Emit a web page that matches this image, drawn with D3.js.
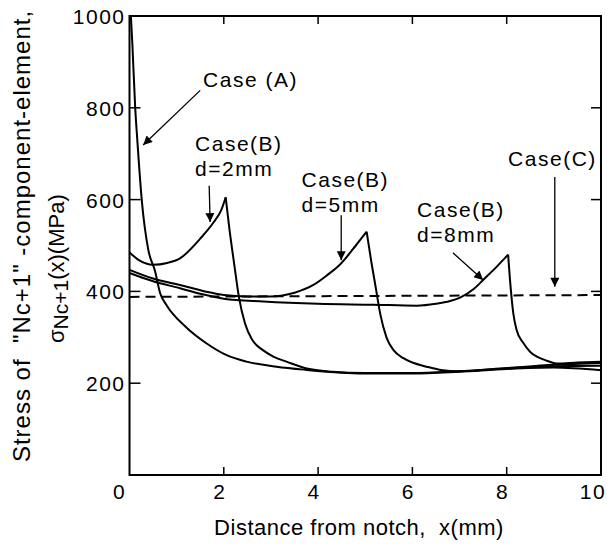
<!DOCTYPE html>
<html>
<head>
<meta charset="utf-8">
<script src="https://cdn.jsdelivr.net/npm/d3@7"></script>
<style>
  body { margin: 0; background: #fff; }
  svg text { font-family: "Liberation Sans", Arial, sans-serif; fill: #000; white-space: pre; }
</style>
</head>
<body>
<svg width="611" height="547"></svg>
<script>
// values: x = distance (mm), y = stress (MPa)
let caseAX = [0.03, 0.06, 0.12, 0.17, 0.26, 0.40, 0.54, 0.65, 0.78, 1.19, 1.63, 2.06, 2.48, 3.12, 3.76, 4.5, 5.2, 6.0, 7.0, 8.0, 9.0, 10.0];
let caseAY = [998, 940, 802, 723, 599, 490, 445, 396, 371, 323, 287, 261, 247, 236, 229, 223, 221, 221, 225, 231, 234, 228];

let d2RiseX = [0, 0.2, 0.5, 0.8, 1.07, 1.5, 1.78, 1.95, 2.04];
let d2RiseY = [485, 468, 458, 462, 472, 515, 550, 578, 605];
let d2DropX = [2.04, 2.12, 2.22, 2.32, 2.45, 2.6, 2.83, 3.05, 3.33, 3.76, 4.3, 5, 6, 7, 8, 9, 10];
let d2DropY = [605, 535, 460, 388, 330, 295, 272, 258, 247, 232, 225, 222, 222, 226, 232, 237, 238];

let d5RiseX = [0, 0.5, 1.07, 1.6, 2.0, 2.5, 3.0, 3.5, 3.9, 4.2, 4.46, 4.8, 5.03];
let d5RiseY = [447, 428, 414, 400, 392, 389, 389, 397, 414, 436, 458, 500, 530];
let d5DropX = [5.03, 5.12, 5.22, 5.32, 5.45, 5.6, 5.8, 6.0, 6.3, 6.6, 7, 8, 9, 10];
let d5DropY = [530, 470, 410, 350, 300, 272, 255, 245, 236, 229, 226, 233, 240, 244];

let d8RiseX = [0, 0.5, 1.07, 1.5, 2.0, 2.84, 4.0, 5.17, 6.09, 6.5, 6.8, 7.0, 7.3, 7.5, 7.79, 8.03];
let d8RiseY = [440, 422, 407, 395, 384, 378, 373, 371, 369, 373, 379, 386, 405, 425, 454, 480];
let d8DropX = [8.03, 8.07, 8.14, 8.21, 8.35, 8.5, 8.64, 8.85, 9.06, 9.5, 10];
let d8DropY = [480, 425, 352, 316, 288, 268, 258, 249, 243, 245, 247];

let caseCX = [0, 10];
let caseCY = [388, 392];

let xTicks = [0, 2, 4, 6, 8, 10];
let yTicks = [200, 400, 600, 800, 1000];

// annotations: text lines + arrow, in data units
let notes = [
  { x: 1.56, y: 845, lines: ['Case (A)'], from: [1.50, 838], to: [0.29, 719] },
  { x: 1.39, y: 706, lines: ['Case(B)', 'd=2mm'], from: [1.69, 630], to: [1.71, 551] },
  { x: 3.65, y: 627, lines: ['Case(B)', 'd=5mm'], from: [4.49, 566], to: [4.49, 468] },
  { x: 6.10, y: 562, lines: ['Case(B)', 'd=8mm'], from: [6.86, 484], to: [7.50, 425] },
  { x: 8.03, y: 673, lines: ['Case(C)'], from: [9.02, 649], to: [9.02, 410] }
];

let svg = d3.select('svg');
let plotL = 129.5, plotR = 601, plotT = 16, plotB = 475;

let x = d3.scaleLinear().domain([0, 10]).range([plotL, plotR]);
let y = d3.scaleLinear().domain([0, 1000]).range([plotB, plotT]);

let zip = (xs, ys) => xs.map((v, i) => [v, ys[i]]);
let line = d3.line()
             .x(d => x(d[0]))
             .y(d => y(d[1]))
             .curve(d3.curveMonotoneX);

// arrow head
svg.append('defs').append('marker')
   .attr('id', 'head')
   .attr('viewBox', '0 0 10 10')
   .attr('refX', 10).attr('refY', 5)
   .attr('markerWidth', 11).attr('markerHeight', 9)
   .attr('markerUnits', 'userSpaceOnUse')
   .attr('orient', 'auto')
   .append('path')
   .attr('d', 'M0,0 L10,5 L0,10 z')
   .attr('fill', '#000');

// frame
svg.append('rect')
   .attr('x', plotL).attr('y', plotT)
   .attr('width', plotR - plotL).attr('height', plotB - plotT)
   .attr('fill', 'none').attr('stroke', '#000').attr('stroke-width', 2);

// ticks (inward on all four sides)
let tickG = svg.append('g').attr('stroke', '#000').attr('stroke-width', 1.5);
xTicks.slice(1, -1).forEach(t => {
  tickG.append('line').attr('x1', x(t)).attr('x2', x(t)).attr('y1', plotB).attr('y2', plotB - 8);
  tickG.append('line').attr('x1', x(t)).attr('x2', x(t)).attr('y1', plotT).attr('y2', plotT + 8);
});
yTicks.slice(0, -1).forEach(t => {
  tickG.append('line').attr('x1', plotL).attr('x2', plotL + 11).attr('y1', y(t)).attr('y2', y(t));
  tickG.append('line').attr('x1', plotR).attr('x2', plotR - 10).attr('y1', y(t)).attr('y2', y(t));
});

// tick labels
svg.append('g').selectAll('text')
   .data(xTicks).enter().append('text')
   .attr('x', d => x(d) - (d === 0 ? 10 : (d === 10 ? 8 : 4)))
   .attr('y', 499)
   .attr('text-anchor', 'middle')
   .style('font-size', '21px')
   .style('letter-spacing', '1.5px')
   .text(d => d);

svg.append('g').selectAll('text')
   .data(yTicks).enter().append('text')
   .attr('x', plotL - 4)
   .attr('y', d => y(d) + 8)
   .attr('text-anchor', 'end')
   .style('font-size', '21px')
   .style('letter-spacing', '1.5px')
   .text(d => d);

// axis titles
svg.append('text')
   .attr('x', 359).attr('y', 535)
   .attr('text-anchor', 'middle')
   .style('font-size', '22px')
   .style('letter-spacing', '0.5px')
   .text('Distance from notch,  x(mm)');

svg.append('text')
   .attr('transform', 'translate(30,236) rotate(-90)')
   .attr('text-anchor', 'middle')
   .style('font-size', '24px')
   .style('letter-spacing', '1px')
   .text('Stress of  "Nc+1" -component-element,');

let yl2 = svg.append('text')
   .attr('transform', 'translate(64,343) rotate(-90)')
   .style('font-size', '22px');
yl2.append('tspan').text('\u03c3');
yl2.append('tspan').attr('dy', 4).style('font-size', '21px').text('Nc+1');
yl2.append('tspan').attr('dy', -4).text('(x)(MPa)');

// curves
let curves = [
  zip(caseAX, caseAY),
  zip(d2RiseX, d2RiseY), zip(d2DropX, d2DropY),
  zip(d5RiseX, d5RiseY), zip(d5DropX, d5DropY),
  zip(d8RiseX, d8RiseY), zip(d8DropX, d8DropY)
];

svg.append('g').selectAll('path')
   .data(curves).enter().append('path')
   .attr('d', line)
   .attr('fill', 'none')
   .attr('stroke', '#000')
   .attr('stroke-width', 2);

svg.append('path')
   .attr('d', d3.line().x(d => x(d[0])).y(d => y(d[1]))(zip(caseCX, caseCY)))
   .attr('fill', 'none')
   .attr('stroke', '#000')
   .attr('stroke-width', 2)
   .attr('stroke-dasharray', '10,6');

// annotations
let noteG = svg.append('g');
notes.forEach(n => {
  n.lines.forEach((s, i) => {
    noteG.append('text')
         .attr('x', x(n.x)).attr('y', y(n.y) + i * 25)
         .style('font-size', '21px')
         .style('letter-spacing', '1.5px')
         .text(s);
  });
  noteG.append('line')
       .attr('x1', x(n.from[0])).attr('y1', y(n.from[1]))
       .attr('x2', x(n.to[0])).attr('y2', y(n.to[1]))
       .attr('stroke', '#000').attr('stroke-width', 1.3)
       .attr('marker-end', 'url(#head)');
});
</script>
</body>
</html>
